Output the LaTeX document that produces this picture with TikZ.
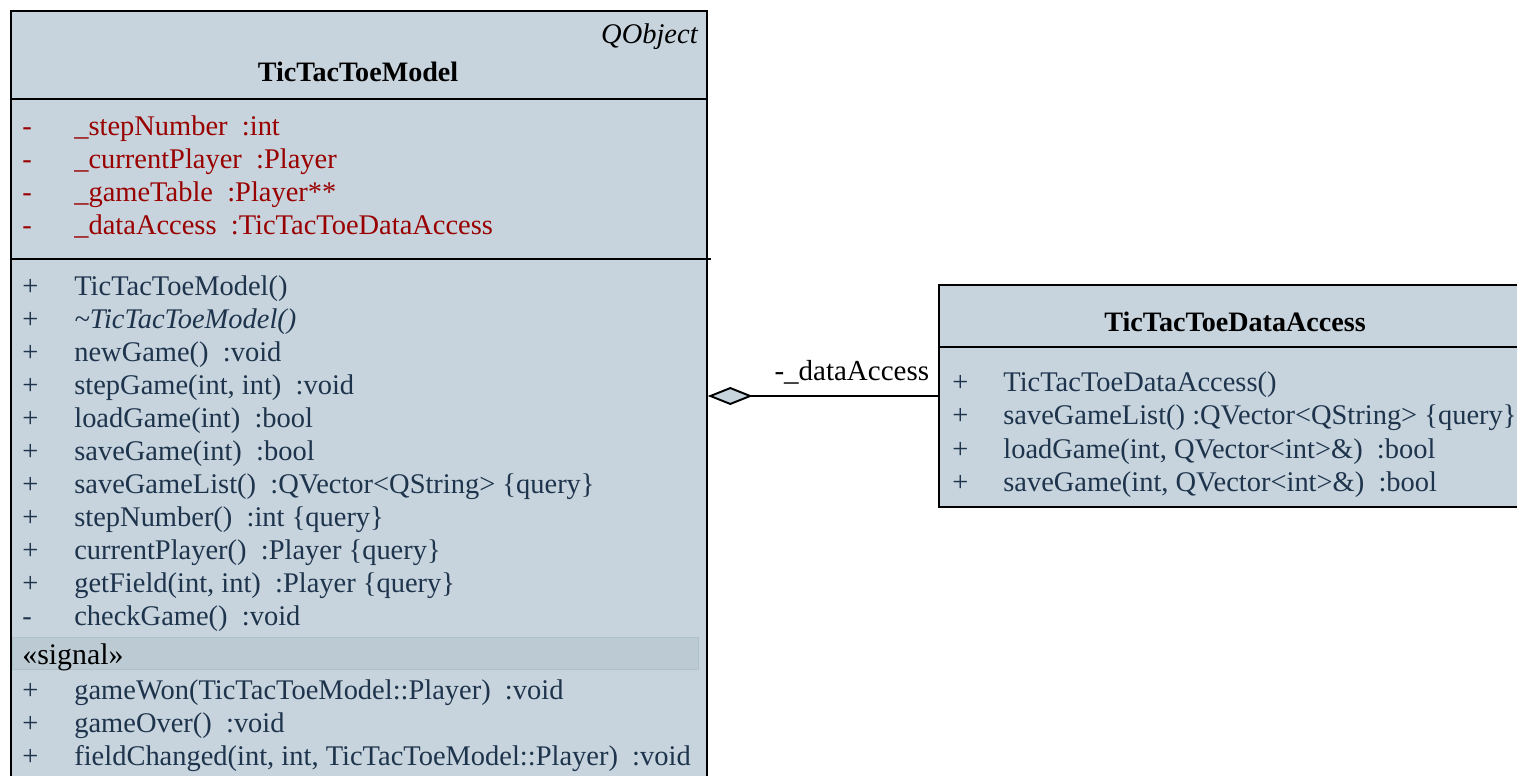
\documentclass[tikz,border=0pt]{standalone}
\usepackage{fontspec}
\setmainfont{Liberation Serif}
\usetikzlibrary{arrows.meta}
\definecolor{umlfill}{RGB}{199,212,221}
\definecolor{umltext}{RGB}{30,52,76}
\definecolor{umlattr}{RGB}{153,0,0}
\definecolor{umlsig}{RGB}{188,202,212}
\definecolor{umlsigline}{RGB}{176,192,203}

\begin{document}
\begin{tikzpicture}[x=0.02cm, y=-0.02cm,
    classbox/.style={draw, line width=1.1pt, fill=umlfill, anchor=north west, inner sep=0pt},
    member/.style={anchor=base west, inner sep=0pt, text=umltext, font=\fontsize{16.2}{18}\selectfont},
    attr/.style={member, text=umlattr},
    classname/.style={anchor=base, inner sep=0pt, font=\fontsize{16}{18}\selectfont\bfseries},
    compline/.style={line width=1.1pt}]
    \useasboundingbox (0,0) rectangle (1517,775);

    % the model class
    \node[classbox, minimum width=13.92cm, minimum height=15.5cm] (model) at (10,10) {};
    \node[member, anchor=base east, text=black, font=\fontsize{16.2}{18}\selectfont\itshape] (mbase) at (698,43) {QObject};
    \node[classname] (mname) at (358,81) {TicTacToeModel};
    \draw[compline] (model.west |- 0,99) -- (model.east |- 0,99);
    \draw[compline] (model.west |- 0,259) -- ([xshift=0.06cm]model.east |- 0,259);
    \foreach \txt [count=\i] in {{\_stepNumber~ :int}, {\_currentPlayer~ :Player},
        {\_gameTable~ :Player**}, {\_dataAccess~ :TicTacToeDataAccess}}
      {\node[attr] (av\i) at (22,102+33*\i) {-};
       \node[attr] (a\i) at (74,102+33*\i) {\txt};}
    \foreach \v/\txt [count=\i] in {+/{TicTacToeModel()}, +/{\textit{\textasciitilde TicTacToeModel()}},
        +/{newGame()~ :void}, +/{stepGame(int, int)~ :void}, +/{loadGame(int)~ :bool},
        +/{saveGame(int)~ :bool}, +/{saveGameList()~ :QVector<QString> \{query\}},
        +/{stepNumber()~ :int \{query\}}, +/{currentPlayer()~ :Player \{query\}},
        +/{getField(int, int)~ :Player \{query\}}, -/{checkGame()~ :void}}
      {\node[member] (opv\i) at (22,262+33*\i) {\v};
       \node[member] (op\i) at (74,262+33*\i) {\txt};}
    \node[fill=umlsig, draw=umlsigline, anchor=north west, inner sep=0pt,
      minimum width=13.72cm, minimum height=0.64cm] (sigbar) at (12,637) {};
    \node[member, text=black, font=\fontsize{17}{18}\selectfont] (sig) at (22,664) {«signal»};
    \foreach \txt [count=\i] in {{gameWon(TicTacToeModel::Player)~ :void}, {gameOver()~ :void},
        {fieldChanged(int, int, TicTacToeModel::Player)~ :void}}
      {\node[member] (sv\i) at (22,666+33*\i) {+};
       \node[member] (s\i) at (74,666+33*\i) {\txt};}

    % the data access class
    \node[classbox, minimum width=11.64cm, minimum height=4.44cm] (data) at (938,284) {};
    \node[classname] (dname) at (1235,331) {TicTacToeDataAccess};
    \draw[compline] (data.west |- 0,347) -- (data.east |- 0,347);
    \foreach \txt [count=\i] in {{TicTacToeDataAccess()}, {saveGameList() :QVector<QString> \{query\}},
        {loadGame(int, QVector<int>\&)~ :bool}, {saveGame(int, QVector<int>\&)~ :bool}}
      {\node[member] (dv\i) at (952,357.5+33.6*\i) {+};
       \node[member] (d\i) at (1003,357.5+33.6*\i) {\txt};}

    % aggregation
    \coordinate (agg) at (model.east |- 0,396);
    \draw[line width=1.1pt, {Diamond[length=0.9cm, width=0.36cm, fill=umlfill]}-]
      (agg) -- (data.west |- agg)
      node[pos=1, anchor=base east, inner sep=0pt, xshift=-0.16cm, yshift=0.32cm,
        font=\fontsize{16.5}{18}\selectfont] (alabel) {-\_dataAccess};
\end{tikzpicture}
\end{document}
